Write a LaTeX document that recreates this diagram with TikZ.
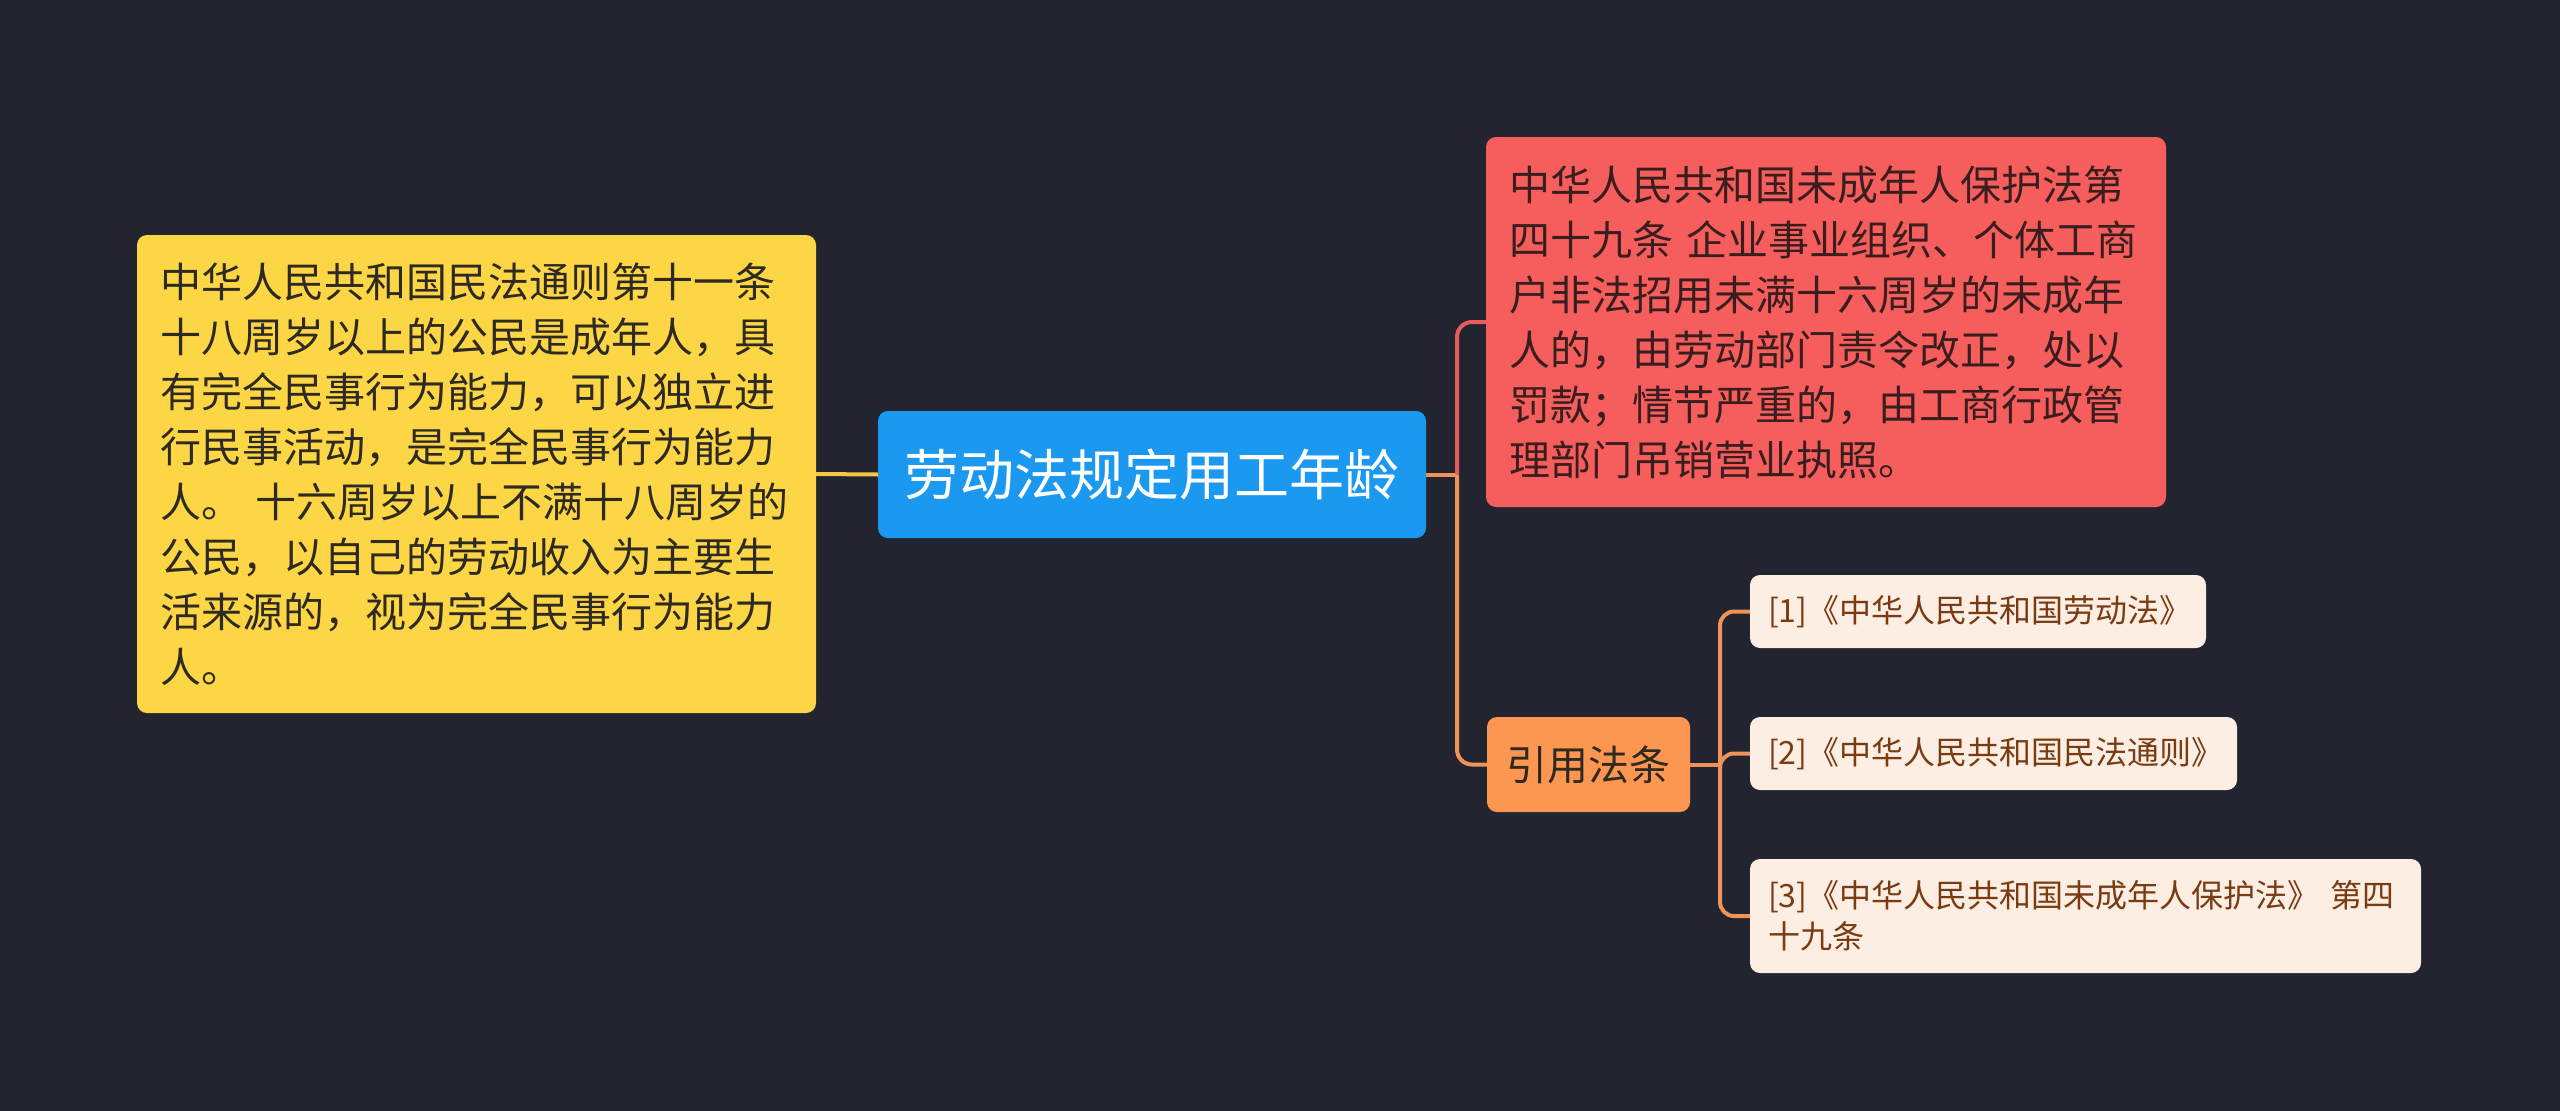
\documentclass[tikz,border=0pt]{standalone}
\usepackage{fontspec}
\setmainfont{Noto Sans CJK SC}
\definecolor{bg}{HTML}{22252F}
\definecolor{cblue}{HTML}{1B98F0}
\definecolor{cyel}{HTML}{FDD645}
\definecolor{cred}{HTML}{F65D5D}
\definecolor{corg}{HTML}{FD9650}
\definecolor{clight}{HTML}{FDEEE3}
\definecolor{tdark}{HTML}{2E2A22}
\definecolor{tredd}{HTML}{3A1E1E}
\definecolor{tbrown}{HTML}{7A3B12}
\definecolor{lyel}{HTML}{F5C842}
\definecolor{lorg}{HTML}{F09358}
\definecolor{lred}{HTML}{E85C5C}
\tikzset{
  box/.style={rounded corners=10pt, inner sep=0pt, align=left},
  bigtext/.style={font=\fontsize{41pt}{55pt}\selectfont},
  smalltext/.style={font=\fontsize{32pt}{41pt}\selectfont},
  leaf/.style={box, fill=clight, text=tbrown, smalltext, minimum height=73pt},
  ln/.style={line width=4pt},
}
\begin{document}
\begin{tikzpicture}[x=1pt,y=-1pt]
\fill[bg] (0,0) rectangle (2560,1111);
\useasboundingbox (0,0) rectangle (2560,1111);

\node[box, fill=cblue, text=white, align=center, minimum width=548pt, minimum height=127pt,
  font=\fontsize{55pt}{66pt}\selectfont] (main) at (1152,474.5) {劳动法规定用工年龄};

\node[box, fill=cyel, text=tdark, bigtext, minimum width=679pt, minimum height=478pt, text width=633pt]
  (law) at (476.5,474) {中华人民共和国民法通则第十一条\\十八周岁以上的公民是成年人，具\\有完全民事行为能力，可以独立进\\行民事活动，是完全民事行为能力\\人。 十六周岁以上不满十八周岁的\\公民，以自己的劳动收入为主要生\\活来源的，视为完全民事行为能力\\人。};

\node[box, fill=cred, text=tredd, bigtext, minimum width=680pt, minimum height=370pt, text width=634pt]
  (red) at (1826,322) {中华人民共和国未成年人保护法第\\四十九条 企业事业组织、个体工商\\户非法招用未满十六周岁的未成年\\人的，由劳动部门责令改正，处以\\罚款；情节严重的，由工商行政管\\理部门吊销营业执照。};

\node[box, fill=corg, text=tdark, align=center, bigtext, minimum width=203pt, minimum height=95pt]
  (cite) at (1588.5,764.5) {引用法条};

\node[leaf, minimum width=456pt, text width=420pt] (r1) at (1978,611.5) {[1]《中华人民共和国劳动法》};
\node[leaf, minimum width=487pt, text width=451pt] (r2) at (1993.5,753.5) {[2]《中华人民共和国民法通则》};
\node[leaf, minimum width=671pt, minimum height=114pt, text width=635pt] (r3) at (2085.5,916)
  {[3]《中华人民共和国未成年人保护法》 第四\\十九条};

\coordinate (jr) at (1457,474.5);
\coordinate (jc) at (1720,764.5);
\draw[ln, lyel] (law.east) -- (main.west);
\draw[ln, lorg] (main.east) -- (jr);
\draw[ln, lred, rounded corners=15pt] (jr) |- (red.west);
\draw[ln, lorg, rounded corners=15pt] (jr) |- (cite.west);
\draw[ln, lorg] (cite.east) -- (jc);
\draw[ln, lorg, rounded corners=14pt] (jc) |- (r1.west);
\draw[ln, lorg, rounded corners=14pt] (jc) |- (r2.west);
\draw[ln, lorg, rounded corners=14pt] (jc) |- (r3.west);
\end{tikzpicture}
\end{document}
